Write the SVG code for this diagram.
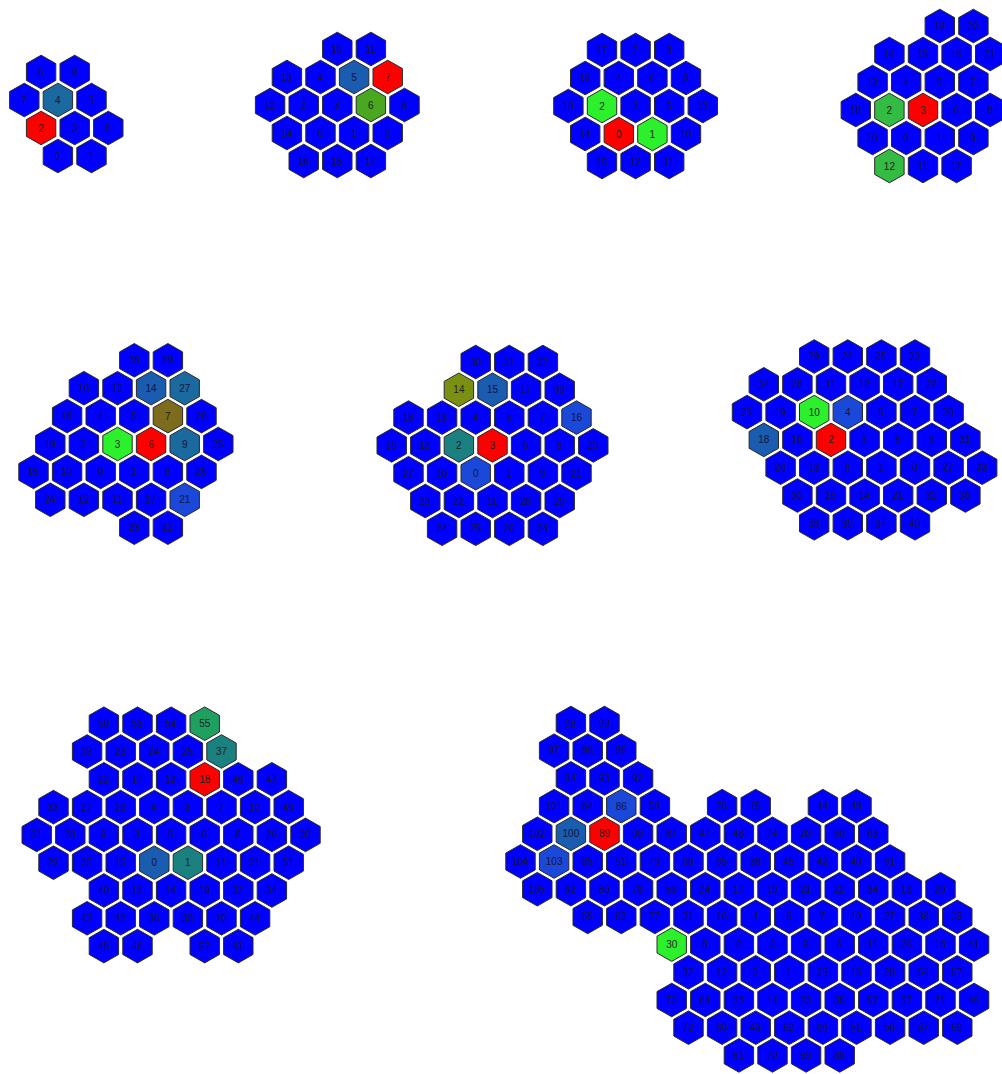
<svg xmlns="http://www.w3.org/2000/svg" xmlns:xlink="http://www.w3.org/1999/xlink" width="1002" height="1074" viewBox="0 0 1002 1074">
<style>
.n use{fill:#0000ff;stroke:#2a2a2a;stroke-width:1}
.n text{font-family:"Liberation Sans",Arial,sans-serif;font-size:10px;fill:#14143c;text-anchor:middle}
.r use{fill:#ff0000}
.g1 use{fill:#2cf02c}
.g2 use{fill:#33bb44}
.g3 use{fill:#4aa820}
.g4 use{fill:#1fa060}
.tl use{fill:#1a8080}
.st use{fill:#1a5cb0}
.s2 use{fill:#1a6aa0}
.ol use{fill:#7d6b1e}
.og use{fill:#7a9012}
.lb use{fill:#1a48d8}
.r text,.g1 text,.g2 text,.g3 text,.g4 text,.tl text,.ol text,.og text{fill:#222}
</style>
<defs><polygon id="h" points="0,-16.8 14.7,-8.4 14.7,8.4 0,16.8 -14.7,8.4 -14.7,-8.4"/></defs>
<rect width="1002" height="1074" fill="#ffffff"/>
<g id="cluster1">
<g id="c1-6" class="n" transform="translate(41.1 72)"><use href="#h"/><text y="3.5">6</text></g>
<g id="c1-9" class="n" transform="translate(74.7 72)"><use href="#h"/><text y="3.5">9</text></g>
<g id="c1-7" class="n" transform="translate(24.3 100)"><use href="#h"/><text y="3.5">7</text></g>
<g id="c1-4" class="n s2" transform="translate(57.9 100)"><use href="#h"/><text y="3.5">4</text></g>
<g id="c1-5" class="n" transform="translate(91.5 100)"><use href="#h"/><text y="3.5">5</text></g>
<g id="c1-2" class="n r" transform="translate(41.1 128)"><use href="#h"/><text y="3.5">2</text></g>
<g id="c1-3" class="n" transform="translate(74.7 128)"><use href="#h"/><text y="3.5">3</text></g>
<g id="c1-8" class="n" transform="translate(108.3 128)"><use href="#h"/><text y="3.5">8</text></g>
<g id="c1-0" class="n" transform="translate(57.9 156)"><use href="#h"/><text y="3.5">0</text></g>
<g id="c1-1" class="n" transform="translate(91.5 156)"><use href="#h"/><text y="3.5">1</text></g>
</g>
<g id="cluster2">
<g id="c2-10" class="n" transform="translate(337.3 49)"><use href="#h"/><text y="3.5">10</text></g>
<g id="c2-11" class="n" transform="translate(370.9 49)"><use href="#h"/><text y="3.5">11</text></g>
<g id="c2-13" class="n" transform="translate(286.9 77)"><use href="#h"/><text y="3.5">13</text></g>
<g id="c2-4" class="n" transform="translate(320.5 77)"><use href="#h"/><text y="3.5">4</text></g>
<g id="c2-5" class="n st" transform="translate(354.1 77)"><use href="#h"/><text y="3.5">5</text></g>
<g id="c2-7" class="n r" transform="translate(387.7 77)"><use href="#h"/><text y="3.5">7</text></g>
<g id="c2-12" class="n" transform="translate(270.1 105)"><use href="#h"/><text y="3.5">12</text></g>
<g id="c2-2" class="n" transform="translate(303.7 105)"><use href="#h"/><text y="3.5">2</text></g>
<g id="c2-3" class="n" transform="translate(337.3 105)"><use href="#h"/><text y="3.5">3</text></g>
<g id="c2-6" class="n g3" transform="translate(370.9 105)"><use href="#h"/><text y="3.5">6</text></g>
<g id="c2-8" class="n" transform="translate(404.5 105)"><use href="#h"/><text y="3.5">8</text></g>
<g id="c2-14" class="n" transform="translate(286.9 133)"><use href="#h"/><text y="3.5">14</text></g>
<g id="c2-0" class="n" transform="translate(320.5 133)"><use href="#h"/><text y="3.5">0</text></g>
<g id="c2-1" class="n" transform="translate(354.1 133)"><use href="#h"/><text y="3.5">1</text></g>
<g id="c2-9" class="n" transform="translate(387.7 133)"><use href="#h"/><text y="3.5">9</text></g>
<g id="c2-16" class="n" transform="translate(303.7 161)"><use href="#h"/><text y="3.5">16</text></g>
<g id="c2-15" class="n" transform="translate(337.3 161)"><use href="#h"/><text y="3.5">15</text></g>
<g id="c2-17" class="n" transform="translate(370.9 161)"><use href="#h"/><text y="3.5">17</text></g>
</g>
<g id="cluster3">
<g id="c3-17" class="n" transform="translate(602 50)"><use href="#h"/><text y="3.5">17</text></g>
<g id="c3-7" class="n" transform="translate(635.6 50)"><use href="#h"/><text y="3.5">7</text></g>
<g id="c3-8" class="n" transform="translate(669.2 50)"><use href="#h"/><text y="3.5">8</text></g>
<g id="c3-16" class="n" transform="translate(585.2 78)"><use href="#h"/><text y="3.5">16</text></g>
<g id="c3-4" class="n" transform="translate(618.8 78)"><use href="#h"/><text y="3.5">4</text></g>
<g id="c3-6" class="n" transform="translate(652.4 78)"><use href="#h"/><text y="3.5">6</text></g>
<g id="c3-9" class="n" transform="translate(686 78)"><use href="#h"/><text y="3.5">9</text></g>
<g id="c3-18" class="n" transform="translate(568.4 106)"><use href="#h"/><text y="3.5">18</text></g>
<g id="c3-2" class="n g1" transform="translate(602 106)"><use href="#h"/><text y="3.5">2</text></g>
<g id="c3-3" class="n" transform="translate(635.6 106)"><use href="#h"/><text y="3.5">3</text></g>
<g id="c3-5" class="n" transform="translate(669.2 106)"><use href="#h"/><text y="3.5">5</text></g>
<g id="c3-13" class="n" transform="translate(702.8 106)"><use href="#h"/><text y="3.5">13</text></g>
<g id="c3-14" class="n" transform="translate(585.2 134)"><use href="#h"/><text y="3.5">14</text></g>
<g id="c3-0" class="n r" transform="translate(618.8 134)"><use href="#h"/><text y="3.5">0</text></g>
<g id="c3-1" class="n g1" transform="translate(652.4 134)"><use href="#h"/><text y="3.5">1</text></g>
<g id="c3-10" class="n" transform="translate(686 134)"><use href="#h"/><text y="3.5">10</text></g>
<g id="c3-15" class="n" transform="translate(602 162)"><use href="#h"/><text y="3.5">15</text></g>
<g id="c3-12" class="n" transform="translate(635.6 162)"><use href="#h"/><text y="3.5">12</text></g>
<g id="c3-11" class="n" transform="translate(669.2 162)"><use href="#h"/><text y="3.5">11</text></g>
</g>
<g id="cluster4">
<g id="c4-19" class="n" transform="translate(939.8 26)"><use href="#h"/><text y="3.5">19</text></g>
<g id="c4-20" class="n" transform="translate(973.4 26)"><use href="#h"/><text y="3.5">20</text></g>
<g id="c4-14" class="n" transform="translate(889.4 54)"><use href="#h"/><text y="3.5">14</text></g>
<g id="c4-15" class="n" transform="translate(923 54)"><use href="#h"/><text y="3.5">15</text></g>
<g id="c4-16" class="n" transform="translate(956.6 54)"><use href="#h"/><text y="3.5">16</text></g>
<g id="c4-21" class="n" transform="translate(990.2 54)"><use href="#h"/><text y="3.5">21</text></g>
<g id="c4-13" class="n" transform="translate(872.6 82)"><use href="#h"/><text y="3.5">13</text></g>
<g id="c4-4" class="n" transform="translate(906.2 82)"><use href="#h"/><text y="3.5">4</text></g>
<g id="c4-5" class="n" transform="translate(939.8 82)"><use href="#h"/><text y="3.5">5</text></g>
<g id="c4-7" class="n" transform="translate(973.4 82)"><use href="#h"/><text y="3.5">7</text></g>
<g id="c4-18" class="n" transform="translate(855.8 110)"><use href="#h"/><text y="3.5">18</text></g>
<g id="c4-2" class="n g2" transform="translate(889.4 110)"><use href="#h"/><text y="3.5">2</text></g>
<g id="c4-3" class="n r" transform="translate(923 110)"><use href="#h"/><text y="3.5">3</text></g>
<g id="c4-6" class="n" transform="translate(956.6 110)"><use href="#h"/><text y="3.5">6</text></g>
<g id="c4-8" class="n" transform="translate(990.2 110)"><use href="#h"/><text y="3.5">8</text></g>
<g id="c4-10" class="n" transform="translate(872.6 138)"><use href="#h"/><text y="3.5">10</text></g>
<g id="c4-0" class="n" transform="translate(906.2 138)"><use href="#h"/><text y="3.5">0</text></g>
<g id="c4-1" class="n" transform="translate(939.8 138)"><use href="#h"/><text y="3.5">1</text></g>
<g id="c4-9" class="n" transform="translate(973.4 138)"><use href="#h"/><text y="3.5">9</text></g>
<g id="c4-12" class="n g2" transform="translate(889.4 166)"><use href="#h"/><text y="3.5">12</text></g>
<g id="c4-11" class="n" transform="translate(923 166)"><use href="#h"/><text y="3.5">11</text></g>
<g id="c4-17" class="n" transform="translate(956.6 166)"><use href="#h"/><text y="3.5">17</text></g>
</g>
<g id="cluster5">
<g id="c5-28" class="n" transform="translate(134.3 360.3)"><use href="#h"/><text y="3.5">28</text></g>
<g id="c5-29" class="n" transform="translate(167.9 360.3)"><use href="#h"/><text y="3.5">29</text></g>
<g id="c5-16" class="n" transform="translate(83.9 388.2)"><use href="#h"/><text y="3.5">16</text></g>
<g id="c5-13" class="n" transform="translate(117.5 388.2)"><use href="#h"/><text y="3.5">13</text></g>
<g id="c5-14" class="n st" transform="translate(151.1 388.2)"><use href="#h"/><text y="3.5">14</text></g>
<g id="c5-27" class="n s2" transform="translate(184.7 388.2)"><use href="#h"/><text y="3.5">27</text></g>
<g id="c5-18" class="n" transform="translate(67.1 416.1)"><use href="#h"/><text y="3.5">18</text></g>
<g id="c5-4" class="n" transform="translate(100.7 416.1)"><use href="#h"/><text y="3.5">4</text></g>
<g id="c5-5" class="n" transform="translate(134.3 416.1)"><use href="#h"/><text y="3.5">5</text></g>
<g id="c5-7" class="n ol" transform="translate(167.9 416.1)"><use href="#h"/><text y="3.5">7</text></g>
<g id="c5-20" class="n" transform="translate(201.5 416.1)"><use href="#h"/><text y="3.5">20</text></g>
<g id="c5-19" class="n" transform="translate(50.3 444)"><use href="#h"/><text y="3.5">19</text></g>
<g id="c5-2" class="n" transform="translate(83.9 444)"><use href="#h"/><text y="3.5">2</text></g>
<g id="c5-3" class="n g1" transform="translate(117.5 444)"><use href="#h"/><text y="3.5">3</text></g>
<g id="c5-6" class="n r" transform="translate(151.1 444)"><use href="#h"/><text y="3.5">6</text></g>
<g id="c5-9" class="n s2" transform="translate(184.7 444)"><use href="#h"/><text y="3.5">9</text></g>
<g id="c5-25" class="n" transform="translate(218.3 444)"><use href="#h"/><text y="3.5">25</text></g>
<g id="c5-15" class="n" transform="translate(33.5 471.9)"><use href="#h"/><text y="3.5">15</text></g>
<g id="c5-10" class="n" transform="translate(67.1 471.9)"><use href="#h"/><text y="3.5">10</text></g>
<g id="c5-0" class="n" transform="translate(100.7 471.9)"><use href="#h"/><text y="3.5">0</text></g>
<g id="c5-1" class="n" transform="translate(134.3 471.9)"><use href="#h"/><text y="3.5">1</text></g>
<g id="c5-8" class="n" transform="translate(167.9 471.9)"><use href="#h"/><text y="3.5">8</text></g>
<g id="c5-26" class="n" transform="translate(201.5 471.9)"><use href="#h"/><text y="3.5">26</text></g>
<g id="c5-24" class="n" transform="translate(50.3 499.8)"><use href="#h"/><text y="3.5">24</text></g>
<g id="c5-12" class="n" transform="translate(83.9 499.8)"><use href="#h"/><text y="3.5">12</text></g>
<g id="c5-11" class="n" transform="translate(117.5 499.8)"><use href="#h"/><text y="3.5">11</text></g>
<g id="c5-17" class="n" transform="translate(151.1 499.8)"><use href="#h"/><text y="3.5">17</text></g>
<g id="c5-21" class="n lb" transform="translate(184.7 499.8)"><use href="#h"/><text y="3.5">21</text></g>
<g id="c5-23" class="n" transform="translate(134.3 527.7)"><use href="#h"/><text y="3.5">23</text></g>
<g id="c5-22" class="n" transform="translate(167.9 527.7)"><use href="#h"/><text y="3.5">22</text></g>
</g>
<g id="cluster6">
<g id="c6-30" class="n" transform="translate(475.7 362)"><use href="#h"/><text y="3.5">30</text></g>
<g id="c6-31" class="n" transform="translate(509.3 362)"><use href="#h"/><text y="3.5">31</text></g>
<g id="c6-32" class="n" transform="translate(542.9 362)"><use href="#h"/><text y="3.5">32</text></g>
<g id="c6-14" class="n og" transform="translate(458.9 389.8)"><use href="#h"/><text y="3.5">14</text></g>
<g id="c6-15" class="n st" transform="translate(492.5 389.8)"><use href="#h"/><text y="3.5">15</text></g>
<g id="c6-17" class="n" transform="translate(526.1 389.8)"><use href="#h"/><text y="3.5">17</text></g>
<g id="c6-33" class="n" transform="translate(559.7 389.8)"><use href="#h"/><text y="3.5">33</text></g>
<g id="c6-18" class="n" transform="translate(408.5 417.6)"><use href="#h"/><text y="3.5">18</text></g>
<g id="c6-13" class="n" transform="translate(442.1 417.6)"><use href="#h"/><text y="3.5">13</text></g>
<g id="c6-4" class="n" transform="translate(475.7 417.6)"><use href="#h"/><text y="3.5">4</text></g>
<g id="c6-5" class="n" transform="translate(509.3 417.6)"><use href="#h"/><text y="3.5">5</text></g>
<g id="c6-7" class="n" transform="translate(542.9 417.6)"><use href="#h"/><text y="3.5">7</text></g>
<g id="c6-16" class="n lb" transform="translate(576.5 417.6)"><use href="#h"/><text y="3.5">16</text></g>
<g id="c6-19" class="n" transform="translate(391.7 445.4)"><use href="#h"/><text y="3.5">19</text></g>
<g id="c6-12" class="n" transform="translate(425.3 445.4)"><use href="#h"/><text y="3.5">12</text></g>
<g id="c6-2" class="n tl" transform="translate(458.9 445.4)"><use href="#h"/><text y="3.5">2</text></g>
<g id="c6-3" class="n r" transform="translate(492.5 445.4)"><use href="#h"/><text y="3.5">3</text></g>
<g id="c6-6" class="n" transform="translate(526.1 445.4)"><use href="#h"/><text y="3.5">6</text></g>
<g id="c6-8" class="n" transform="translate(559.7 445.4)"><use href="#h"/><text y="3.5">8</text></g>
<g id="c6-20" class="n" transform="translate(593.3 445.4)"><use href="#h"/><text y="3.5">20</text></g>
<g id="c6-27" class="n" transform="translate(408.5 473.2)"><use href="#h"/><text y="3.5">27</text></g>
<g id="c6-10" class="n" transform="translate(442.1 473.2)"><use href="#h"/><text y="3.5">10</text></g>
<g id="c6-0" class="n lb" transform="translate(475.7 473.2)"><use href="#h"/><text y="3.5">0</text></g>
<g id="c6-1" class="n" transform="translate(509.3 473.2)"><use href="#h"/><text y="3.5">1</text></g>
<g id="c6-9" class="n" transform="translate(542.9 473.2)"><use href="#h"/><text y="3.5">9</text></g>
<g id="c6-21" class="n" transform="translate(576.5 473.2)"><use href="#h"/><text y="3.5">21</text></g>
<g id="c6-23" class="n" transform="translate(425.3 501)"><use href="#h"/><text y="3.5">23</text></g>
<g id="c6-22" class="n" transform="translate(458.9 501)"><use href="#h"/><text y="3.5">22</text></g>
<g id="c6-11" class="n" transform="translate(492.5 501)"><use href="#h"/><text y="3.5">11</text></g>
<g id="c6-28" class="n" transform="translate(526.1 501)"><use href="#h"/><text y="3.5">28</text></g>
<g id="c6-29" class="n" transform="translate(559.7 501)"><use href="#h"/><text y="3.5">29</text></g>
<g id="c6-24" class="n" transform="translate(442.1 528.8)"><use href="#h"/><text y="3.5">24</text></g>
<g id="c6-25" class="n" transform="translate(475.7 528.8)"><use href="#h"/><text y="3.5">25</text></g>
<g id="c6-26" class="n" transform="translate(509.3 528.8)"><use href="#h"/><text y="3.5">26</text></g>
<g id="c6-34" class="n" transform="translate(542.9 528.8)"><use href="#h"/><text y="3.5">34</text></g>
</g>
<g id="cluster7">
<g id="c7-29" class="n" transform="translate(814.2 356.5)"><use href="#h"/><text y="3.5">29</text></g>
<g id="c7-24" class="n" transform="translate(847.8 356.5)"><use href="#h"/><text y="3.5">24</text></g>
<g id="c7-25" class="n" transform="translate(881.4 356.5)"><use href="#h"/><text y="3.5">25</text></g>
<g id="c7-33" class="n" transform="translate(915 356.5)"><use href="#h"/><text y="3.5">33</text></g>
<g id="c7-34" class="n" transform="translate(763.8 384.3)"><use href="#h"/><text y="3.5">34</text></g>
<g id="c7-28" class="n" transform="translate(797.4 384.3)"><use href="#h"/><text y="3.5">28</text></g>
<g id="c7-11" class="n" transform="translate(831 384.3)"><use href="#h"/><text y="3.5">11</text></g>
<g id="c7-12" class="n" transform="translate(864.6 384.3)"><use href="#h"/><text y="3.5">12</text></g>
<g id="c7-17" class="n" transform="translate(898.2 384.3)"><use href="#h"/><text y="3.5">17</text></g>
<g id="c7-22" class="n" transform="translate(931.8 384.3)"><use href="#h"/><text y="3.5">22</text></g>
<g id="c7-35" class="n" transform="translate(747 412.1)"><use href="#h"/><text y="3.5">35</text></g>
<g id="c7-19" class="n" transform="translate(780.6 412.1)"><use href="#h"/><text y="3.5">19</text></g>
<g id="c7-10" class="n g1" transform="translate(814.2 412.1)"><use href="#h"/><text y="3.5">10</text></g>
<g id="c7-4" class="n lb" transform="translate(847.8 412.1)"><use href="#h"/><text y="3.5">4</text></g>
<g id="c7-6" class="n" transform="translate(881.4 412.1)"><use href="#h"/><text y="3.5">6</text></g>
<g id="c7-7" class="n" transform="translate(915 412.1)"><use href="#h"/><text y="3.5">7</text></g>
<g id="c7-20" class="n" transform="translate(948.6 412.1)"><use href="#h"/><text y="3.5">20</text></g>
<g id="c7-18" class="n st" transform="translate(763.8 439.9)"><use href="#h"/><text y="3.5">18</text></g>
<g id="c7-16" class="n" transform="translate(797.4 439.9)"><use href="#h"/><text y="3.5">16</text></g>
<g id="c7-2" class="n r" transform="translate(831 439.9)"><use href="#h"/><text y="3.5">2</text></g>
<g id="c7-3" class="n" transform="translate(864.6 439.9)"><use href="#h"/><text y="3.5">3</text></g>
<g id="c7-5" class="n" transform="translate(898.2 439.9)"><use href="#h"/><text y="3.5">5</text></g>
<g id="c7-9" class="n" transform="translate(931.8 439.9)"><use href="#h"/><text y="3.5">9</text></g>
<g id="c7-31" class="n" transform="translate(965.4 439.9)"><use href="#h"/><text y="3.5">31</text></g>
<g id="c7-26" class="n" transform="translate(780.6 467.7)"><use href="#h"/><text y="3.5">26</text></g>
<g id="c7-13" class="n" transform="translate(814.2 467.7)"><use href="#h"/><text y="3.5">13</text></g>
<g id="c7-8" class="n" transform="translate(847.8 467.7)"><use href="#h"/><text y="3.5">8</text></g>
<g id="c7-1" class="n" transform="translate(881.4 467.7)"><use href="#h"/><text y="3.5">1</text></g>
<g id="c7-0" class="n" transform="translate(915 467.7)"><use href="#h"/><text y="3.5">0</text></g>
<g id="c7-27" class="n" transform="translate(948.6 467.7)"><use href="#h"/><text y="3.5">27</text></g>
<g id="c7-23" class="n" transform="translate(982.2 467.7)"><use href="#h"/><text y="3.5">23</text></g>
<g id="c7-30" class="n" transform="translate(797.4 495.5)"><use href="#h"/><text y="3.5">30</text></g>
<g id="c7-15" class="n" transform="translate(831 495.5)"><use href="#h"/><text y="3.5">15</text></g>
<g id="c7-14" class="n" transform="translate(864.6 495.5)"><use href="#h"/><text y="3.5">14</text></g>
<g id="c7-21" class="n" transform="translate(898.2 495.5)"><use href="#h"/><text y="3.5">21</text></g>
<g id="c7-32" class="n" transform="translate(931.8 495.5)"><use href="#h"/><text y="3.5">32</text></g>
<g id="c7-36" class="n" transform="translate(965.4 495.5)"><use href="#h"/><text y="3.5">36</text></g>
<g id="c7-38" class="n" transform="translate(814.2 523.3)"><use href="#h"/><text y="3.5">38</text></g>
<g id="c7-39" class="n" transform="translate(847.8 523.3)"><use href="#h"/><text y="3.5">39</text></g>
<g id="c7-37" class="n" transform="translate(881.4 523.3)"><use href="#h"/><text y="3.5">37</text></g>
<g id="c7-40" class="n" transform="translate(915 523.3)"><use href="#h"/><text y="3.5">40</text></g>
</g>
<g id="cluster8">
<g id="c8-50" class="n" transform="translate(103.9 723.7)"><use href="#h"/><text y="3.5">50</text></g>
<g id="c8-53" class="n" transform="translate(137.5 723.7)"><use href="#h"/><text y="3.5">53</text></g>
<g id="c8-54" class="n" transform="translate(171.1 723.7)"><use href="#h"/><text y="3.5">54</text></g>
<g id="c8-55" class="n g4" transform="translate(204.7 723.7)"><use href="#h"/><text y="3.5">55</text></g>
<g id="c8-39" class="n" transform="translate(87.1 751.5)"><use href="#h"/><text y="3.5">39</text></g>
<g id="c8-23" class="n" transform="translate(120.7 751.5)"><use href="#h"/><text y="3.5">23</text></g>
<g id="c8-24" class="n" transform="translate(154.3 751.5)"><use href="#h"/><text y="3.5">24</text></g>
<g id="c8-25" class="n" transform="translate(187.9 751.5)"><use href="#h"/><text y="3.5">25</text></g>
<g id="c8-37" class="n tl" transform="translate(221.5 751.5)"><use href="#h"/><text y="3.5">37</text></g>
<g id="c8-22" class="n" transform="translate(103.9 779.3)"><use href="#h"/><text y="3.5">22</text></g>
<g id="c8-17" class="n" transform="translate(137.5 779.3)"><use href="#h"/><text y="3.5">17</text></g>
<g id="c8-12" class="n" transform="translate(171.1 779.3)"><use href="#h"/><text y="3.5">12</text></g>
<g id="c8-18" class="n r" transform="translate(204.7 779.3)"><use href="#h"/><text y="3.5">18</text></g>
<g id="c8-46" class="n" transform="translate(238.3 779.3)"><use href="#h"/><text y="3.5">46</text></g>
<g id="c8-47" class="n" transform="translate(271.9 779.3)"><use href="#h"/><text y="3.5">47</text></g>
<g id="c8-33" class="n" transform="translate(53.5 807.1)"><use href="#h"/><text y="3.5">33</text></g>
<g id="c8-27" class="n" transform="translate(87.1 807.1)"><use href="#h"/><text y="3.5">27</text></g>
<g id="c8-16" class="n" transform="translate(120.7 807.1)"><use href="#h"/><text y="3.5">16</text></g>
<g id="c8-4" class="n" transform="translate(154.3 807.1)"><use href="#h"/><text y="3.5">4</text></g>
<g id="c8-2" class="n" transform="translate(187.9 807.1)"><use href="#h"/><text y="3.5">2</text></g>
<g id="c8-7" class="n" transform="translate(221.5 807.1)"><use href="#h"/><text y="3.5">7</text></g>
<g id="c8-10" class="n" transform="translate(255.1 807.1)"><use href="#h"/><text y="3.5">10</text></g>
<g id="c8-49" class="n" transform="translate(288.7 807.1)"><use href="#h"/><text y="3.5">49</text></g>
<g id="c8-31" class="n" transform="translate(36.7 834.9)"><use href="#h"/><text y="3.5">31</text></g>
<g id="c8-28" class="n" transform="translate(70.3 834.9)"><use href="#h"/><text y="3.5">28</text></g>
<g id="c8-9" class="n" transform="translate(103.9 834.9)"><use href="#h"/><text y="3.5">9</text></g>
<g id="c8-3" class="n" transform="translate(137.5 834.9)"><use href="#h"/><text y="3.5">3</text></g>
<g id="c8-5" class="n" transform="translate(171.1 834.9)"><use href="#h"/><text y="3.5">5</text></g>
<g id="c8-6" class="n" transform="translate(204.7 834.9)"><use href="#h"/><text y="3.5">6</text></g>
<g id="c8-8" class="n" transform="translate(238.3 834.9)"><use href="#h"/><text y="3.5">8</text></g>
<g id="c8-26" class="n" transform="translate(271.9 834.9)"><use href="#h"/><text y="3.5">26</text></g>
<g id="c8-30" class="n" transform="translate(305.5 834.9)"><use href="#h"/><text y="3.5">30</text></g>
<g id="c8-29" class="n" transform="translate(53.5 862.7)"><use href="#h"/><text y="3.5">29</text></g>
<g id="c8-35" class="n" transform="translate(87.1 862.7)"><use href="#h"/><text y="3.5">35</text></g>
<g id="c8-15" class="n" transform="translate(120.7 862.7)"><use href="#h"/><text y="3.5">15</text></g>
<g id="c8-0" class="n st" transform="translate(154.3 862.7)"><use href="#h"/><text y="3.5">0</text></g>
<g id="c8-1" class="n tl" transform="translate(187.9 862.7)"><use href="#h"/><text y="3.5">1</text></g>
<g id="c8-11" class="n" transform="translate(221.5 862.7)"><use href="#h"/><text y="3.5">11</text></g>
<g id="c8-21" class="n" transform="translate(255.1 862.7)"><use href="#h"/><text y="3.5">21</text></g>
<g id="c8-51" class="n" transform="translate(288.7 862.7)"><use href="#h"/><text y="3.5">51</text></g>
<g id="c8-40" class="n" transform="translate(103.9 890.5)"><use href="#h"/><text y="3.5">40</text></g>
<g id="c8-13" class="n" transform="translate(137.5 890.5)"><use href="#h"/><text y="3.5">13</text></g>
<g id="c8-14" class="n" transform="translate(171.1 890.5)"><use href="#h"/><text y="3.5">14</text></g>
<g id="c8-19" class="n" transform="translate(204.7 890.5)"><use href="#h"/><text y="3.5">19</text></g>
<g id="c8-32" class="n" transform="translate(238.3 890.5)"><use href="#h"/><text y="3.5">32</text></g>
<g id="c8-34" class="n" transform="translate(271.9 890.5)"><use href="#h"/><text y="3.5">34</text></g>
<g id="c8-43" class="n" transform="translate(87.1 918.3)"><use href="#h"/><text y="3.5">43</text></g>
<g id="c8-42" class="n" transform="translate(120.7 918.3)"><use href="#h"/><text y="3.5">42</text></g>
<g id="c8-36" class="n" transform="translate(154.3 918.3)"><use href="#h"/><text y="3.5">36</text></g>
<g id="c8-38" class="n" transform="translate(187.9 918.3)"><use href="#h"/><text y="3.5">38</text></g>
<g id="c8-20" class="n" transform="translate(221.5 918.3)"><use href="#h"/><text y="3.5">20</text></g>
<g id="c8-44" class="n" transform="translate(255.1 918.3)"><use href="#h"/><text y="3.5">44</text></g>
<g id="c8-45" class="n" transform="translate(103.9 946.1)"><use href="#h"/><text y="3.5">45</text></g>
<g id="c8-48" class="n" transform="translate(137.5 946.1)"><use href="#h"/><text y="3.5">48</text></g>
<g id="c8-52" class="n" transform="translate(204.7 946.1)"><use href="#h"/><text y="3.5">52</text></g>
<g id="c8-41" class="n" transform="translate(238.3 946.1)"><use href="#h"/><text y="3.5">41</text></g>
</g>
<g id="cluster9">
<g id="c9-98" class="n" transform="translate(570.9 723)"><use href="#h"/><text y="3.5">98</text></g>
<g id="c9-99" class="n" transform="translate(604.5 723)"><use href="#h"/><text y="3.5">99</text></g>
<g id="c9-97" class="n" transform="translate(554.1 750.7)"><use href="#h"/><text y="3.5">97</text></g>
<g id="c9-96" class="n" transform="translate(587.7 750.7)"><use href="#h"/><text y="3.5">96</text></g>
<g id="c9-95" class="n" transform="translate(621.3 750.7)"><use href="#h"/><text y="3.5">95</text></g>
<g id="c9-94" class="n" transform="translate(570.9 778.4)"><use href="#h"/><text y="3.5">94</text></g>
<g id="c9-93" class="n" transform="translate(604.5 778.4)"><use href="#h"/><text y="3.5">93</text></g>
<g id="c9-92" class="n" transform="translate(638.1 778.4)"><use href="#h"/><text y="3.5">92</text></g>
<g id="c9-101" class="n" transform="translate(554.1 806.1)"><use href="#h"/><text y="3.5">101</text></g>
<g id="c9-84" class="n" transform="translate(587.7 806.1)"><use href="#h"/><text y="3.5">84</text></g>
<g id="c9-86" class="n lb" transform="translate(621.3 806.1)"><use href="#h"/><text y="3.5">86</text></g>
<g id="c9-58" class="n" transform="translate(654.9 806.1)"><use href="#h"/><text y="3.5">58</text></g>
<g id="c9-76" class="n" transform="translate(722.1 806.1)"><use href="#h"/><text y="3.5">76</text></g>
<g id="c9-75" class="n" transform="translate(755.7 806.1)"><use href="#h"/><text y="3.5">75</text></g>
<g id="c9-44" class="n" transform="translate(822.9 806.1)"><use href="#h"/><text y="3.5">44</text></g>
<g id="c9-49" class="n" transform="translate(856.5 806.1)"><use href="#h"/><text y="3.5">49</text></g>
<g id="c9-102" class="n" transform="translate(537.3 833.8)"><use href="#h"/><text y="3.5">102</text></g>
<g id="c9-100" class="n st" transform="translate(570.9 833.8)"><use href="#h"/><text y="3.5">100</text></g>
<g id="c9-89" class="n r" transform="translate(604.5 833.8)"><use href="#h"/><text y="3.5">89</text></g>
<g id="c9-90" class="n" transform="translate(638.1 833.8)"><use href="#h"/><text y="3.5">90</text></g>
<g id="c9-87" class="n" transform="translate(671.7 833.8)"><use href="#h"/><text y="3.5">87</text></g>
<g id="c9-47" class="n" transform="translate(705.3 833.8)"><use href="#h"/><text y="3.5">47</text></g>
<g id="c9-48" class="n" transform="translate(738.9 833.8)"><use href="#h"/><text y="3.5">48</text></g>
<g id="c9-74" class="n" transform="translate(772.5 833.8)"><use href="#h"/><text y="3.5">74</text></g>
<g id="c9-20" class="n" transform="translate(806.1 833.8)"><use href="#h"/><text y="3.5">20</text></g>
<g id="c9-50" class="n" transform="translate(839.7 833.8)"><use href="#h"/><text y="3.5">50</text></g>
<g id="c9-63" class="n" transform="translate(873.3 833.8)"><use href="#h"/><text y="3.5">63</text></g>
<g id="c9-104" class="n" transform="translate(520.5 861.5)"><use href="#h"/><text y="3.5">104</text></g>
<g id="c9-103" class="n lb" transform="translate(554.1 861.5)"><use href="#h"/><text y="3.5">103</text></g>
<g id="c9-85" class="n" transform="translate(587.7 861.5)"><use href="#h"/><text y="3.5">85</text></g>
<g id="c9-91" class="n" transform="translate(621.3 861.5)"><use href="#h"/><text y="3.5">91</text></g>
<g id="c9-79" class="n" transform="translate(654.9 861.5)"><use href="#h"/><text y="3.5">79</text></g>
<g id="c9-68" class="n" transform="translate(688.5 861.5)"><use href="#h"/><text y="3.5">68</text></g>
<g id="c9-65" class="n" transform="translate(722.1 861.5)"><use href="#h"/><text y="3.5">65</text></g>
<g id="c9-38" class="n" transform="translate(755.7 861.5)"><use href="#h"/><text y="3.5">38</text></g>
<g id="c9-45" class="n" transform="translate(789.3 861.5)"><use href="#h"/><text y="3.5">45</text></g>
<g id="c9-42" class="n" transform="translate(822.9 861.5)"><use href="#h"/><text y="3.5">42</text></g>
<g id="c9-40" class="n" transform="translate(856.5 861.5)"><use href="#h"/><text y="3.5">40</text></g>
<g id="c9-61" class="n" transform="translate(890.1 861.5)"><use href="#h"/><text y="3.5">61</text></g>
<g id="c9-105" class="n" transform="translate(537.3 889.2)"><use href="#h"/><text y="3.5">105</text></g>
<g id="c9-82" class="n" transform="translate(570.9 889.2)"><use href="#h"/><text y="3.5">82</text></g>
<g id="c9-80" class="n" transform="translate(604.5 889.2)"><use href="#h"/><text y="3.5">80</text></g>
<g id="c9-78" class="n" transform="translate(638.1 889.2)"><use href="#h"/><text y="3.5">78</text></g>
<g id="c9-53" class="n" transform="translate(671.7 889.2)"><use href="#h"/><text y="3.5">53</text></g>
<g id="c9-24" class="n" transform="translate(705.3 889.2)"><use href="#h"/><text y="3.5">24</text></g>
<g id="c9-17" class="n" transform="translate(738.9 889.2)"><use href="#h"/><text y="3.5">17</text></g>
<g id="c9-19" class="n" transform="translate(772.5 889.2)"><use href="#h"/><text y="3.5">19</text></g>
<g id="c9-21" class="n" transform="translate(806.1 889.2)"><use href="#h"/><text y="3.5">21</text></g>
<g id="c9-22" class="n" transform="translate(839.7 889.2)"><use href="#h"/><text y="3.5">22</text></g>
<g id="c9-34" class="n" transform="translate(873.3 889.2)"><use href="#h"/><text y="3.5">34</text></g>
<g id="c9-13" class="n" transform="translate(906.9 889.2)"><use href="#h"/><text y="3.5">13</text></g>
<g id="c9-29" class="n" transform="translate(940.5 889.2)"><use href="#h"/><text y="3.5">29</text></g>
<g id="c9-55" class="n" transform="translate(587.7 916.9)"><use href="#h"/><text y="3.5">55</text></g>
<g id="c9-83" class="n" transform="translate(621.3 916.9)"><use href="#h"/><text y="3.5">83</text></g>
<g id="c9-77" class="n" transform="translate(654.9 916.9)"><use href="#h"/><text y="3.5">77</text></g>
<g id="c9-31" class="n" transform="translate(688.5 916.9)"><use href="#h"/><text y="3.5">31</text></g>
<g id="c9-16" class="n" transform="translate(722.1 916.9)"><use href="#h"/><text y="3.5">16</text></g>
<g id="c9-4" class="n" transform="translate(755.7 916.9)"><use href="#h"/><text y="3.5">4</text></g>
<g id="c9-5" class="n" transform="translate(789.3 916.9)"><use href="#h"/><text y="3.5">5</text></g>
<g id="c9-7" class="n" transform="translate(822.9 916.9)"><use href="#h"/><text y="3.5">7</text></g>
<g id="c9-10" class="n" transform="translate(856.5 916.9)"><use href="#h"/><text y="3.5">10</text></g>
<g id="c9-27" class="n" transform="translate(890.1 916.9)"><use href="#h"/><text y="3.5">27</text></g>
<g id="c9-36" class="n" transform="translate(923.7 916.9)"><use href="#h"/><text y="3.5">36</text></g>
<g id="c9-39" class="n" transform="translate(957.3 916.9)"><use href="#h"/><text y="3.5">39</text></g>
<g id="c9-30" class="n g1" transform="translate(671.7 944.6)"><use href="#h"/><text y="3.5">30</text></g>
<g id="c9-8" class="n" transform="translate(705.3 944.6)"><use href="#h"/><text y="3.5">8</text></g>
<g id="c9-2" class="n" transform="translate(738.9 944.6)"><use href="#h"/><text y="3.5">2</text></g>
<g id="c9-3" class="n" transform="translate(772.5 944.6)"><use href="#h"/><text y="3.5">3</text></g>
<g id="c9-9" class="n" transform="translate(806.1 944.6)"><use href="#h"/><text y="3.5">9</text></g>
<g id="c9-6" class="n" transform="translate(839.7 944.6)"><use href="#h"/><text y="3.5">6</text></g>
<g id="c9-11" class="n" transform="translate(873.3 944.6)"><use href="#h"/><text y="3.5">11</text></g>
<g id="c9-26" class="n" transform="translate(906.9 944.6)"><use href="#h"/><text y="3.5">26</text></g>
<g id="c9-18" class="n" transform="translate(940.5 944.6)"><use href="#h"/><text y="3.5">18</text></g>
<g id="c9-41" class="n" transform="translate(974.1 944.6)"><use href="#h"/><text y="3.5">41</text></g>
<g id="c9-32" class="n" transform="translate(688.5 972.3)"><use href="#h"/><text y="3.5">32</text></g>
<g id="c9-12" class="n" transform="translate(722.1 972.3)"><use href="#h"/><text y="3.5">12</text></g>
<g id="c9-0" class="n" transform="translate(755.7 972.3)"><use href="#h"/><text y="3.5">0</text></g>
<g id="c9-1" class="n" transform="translate(789.3 972.3)"><use href="#h"/><text y="3.5">1</text></g>
<g id="c9-25" class="n" transform="translate(822.9 972.3)"><use href="#h"/><text y="3.5">25</text></g>
<g id="c9-15" class="n" transform="translate(856.5 972.3)"><use href="#h"/><text y="3.5">15</text></g>
<g id="c9-28" class="n" transform="translate(890.1 972.3)"><use href="#h"/><text y="3.5">28</text></g>
<g id="c9-54" class="n" transform="translate(923.7 972.3)"><use href="#h"/><text y="3.5">54</text></g>
<g id="c9-57" class="n" transform="translate(957.3 972.3)"><use href="#h"/><text y="3.5">57</text></g>
<g id="c9-73" class="n" transform="translate(671.7 1000)"><use href="#h"/><text y="3.5">73</text></g>
<g id="c9-64" class="n" transform="translate(705.3 1000)"><use href="#h"/><text y="3.5">64</text></g>
<g id="c9-33" class="n" transform="translate(738.9 1000)"><use href="#h"/><text y="3.5">33</text></g>
<g id="c9-14" class="n" transform="translate(772.5 1000)"><use href="#h"/><text y="3.5">14</text></g>
<g id="c9-23" class="n" transform="translate(806.1 1000)"><use href="#h"/><text y="3.5">23</text></g>
<g id="c9-35" class="n" transform="translate(839.7 1000)"><use href="#h"/><text y="3.5">35</text></g>
<g id="c9-52" class="n" transform="translate(873.3 1000)"><use href="#h"/><text y="3.5">52</text></g>
<g id="c9-37" class="n" transform="translate(906.9 1000)"><use href="#h"/><text y="3.5">37</text></g>
<g id="c9-71" class="n" transform="translate(940.5 1000)"><use href="#h"/><text y="3.5">71</text></g>
<g id="c9-46" class="n" transform="translate(974.1 1000)"><use href="#h"/><text y="3.5">46</text></g>
<g id="c9-72" class="n" transform="translate(688.5 1027.7)"><use href="#h"/><text y="3.5">72</text></g>
<g id="c9-60" class="n" transform="translate(722.1 1027.7)"><use href="#h"/><text y="3.5">60</text></g>
<g id="c9-43" class="n" transform="translate(755.7 1027.7)"><use href="#h"/><text y="3.5">43</text></g>
<g id="c9-62" class="n" transform="translate(789.3 1027.7)"><use href="#h"/><text y="3.5">62</text></g>
<g id="c9-66" class="n" transform="translate(822.9 1027.7)"><use href="#h"/><text y="3.5">66</text></g>
<g id="c9-51" class="n" transform="translate(856.5 1027.7)"><use href="#h"/><text y="3.5">51</text></g>
<g id="c9-56" class="n" transform="translate(890.1 1027.7)"><use href="#h"/><text y="3.5">56</text></g>
<g id="c9-67" class="n" transform="translate(923.7 1027.7)"><use href="#h"/><text y="3.5">67</text></g>
<g id="c9-69" class="n" transform="translate(957.3 1027.7)"><use href="#h"/><text y="3.5">69</text></g>
<g id="c9-81" class="n" transform="translate(738.9 1055.4)"><use href="#h"/><text y="3.5">81</text></g>
<g id="c9-70" class="n" transform="translate(772.5 1055.4)"><use href="#h"/><text y="3.5">70</text></g>
<g id="c9-59" class="n" transform="translate(806.1 1055.4)"><use href="#h"/><text y="3.5">59</text></g>
<g id="c9-88" class="n" transform="translate(839.7 1055.4)"><use href="#h"/><text y="3.5">88</text></g>
</g>
</svg>
